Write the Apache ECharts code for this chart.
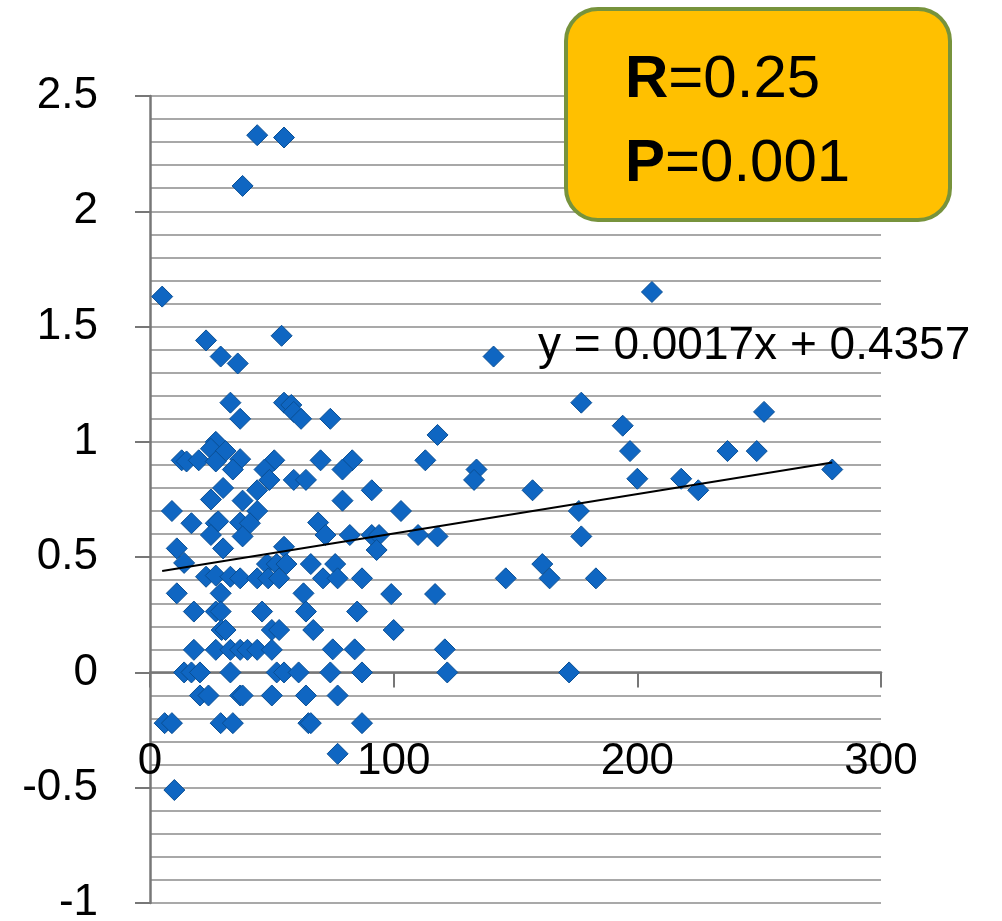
<!DOCTYPE html>
<html>
<head>
<meta charset="utf-8">
<script src="https://cdn.jsdelivr.net/npm/echarts@6/dist/echarts.min.js"></script>
<style>
html,body{margin:0;padding:0;background:#fff;}
#chart{width:1002px;height:921px;}
</style>
</head>
<body>
<div id="chart"></div>
<script>
// Scatter points [x, y]
var points = [
  [44, 2.33], [55, 2.32], [38, 2.11], [5, 1.63], [206, 1.65],
  [23, 1.44], [54, 1.46], [29, 1.37], [36, 1.34], [141, 1.37],
  [33, 1.17], [55, 1.17], [58, 1.16], [59, 1.13], [177, 1.17], [252, 1.13],
  [37, 1.10], [62, 1.10], [74, 1.10],
  [118, 1.03], [194, 1.07],
  [27, 1.00], [25, 0.97], [31, 0.96], [197, 0.96], [237, 0.96], [249, 0.96],
  [13, 0.92], [15, 0.915], [20, 0.92], [27, 0.915], [37, 0.925], [51, 0.92], [70, 0.92], [83, 0.92], [113, 0.92],
  [34, 0.88], [47, 0.88], [79, 0.88], [134, 0.88], [280, 0.88],
  [49, 0.835], [59, 0.835], [64, 0.835], [133, 0.835], [200, 0.84], [218, 0.84],
  [30, 0.80], [44, 0.79], [91, 0.79], [157, 0.79], [225, 0.79],
  [25, 0.75], [38, 0.745], [79, 0.745],
  [9, 0.70], [44, 0.70], [103, 0.70], [176, 0.70],
  [17, 0.647], [27, 0.647], [28, 0.655], [37, 0.65], [41, 0.647], [69, 0.65],
  [25, 0.596], [38, 0.59], [72, 0.596], [82, 0.596], [91, 0.596], [94, 0.596], [110, 0.596], [118, 0.59], [177, 0.59],
  [11, 0.538], [30, 0.538], [55, 0.545], [93, 0.531],
  [14, 0.475], [48, 0.47], [52, 0.47], [56, 0.47], [66, 0.47], [76, 0.47], [161, 0.47],
  [23, 0.415], [27, 0.42], [33, 0.415], [37, 0.408], [44, 0.408], [48.5, 0.408], [53, 0.408], [71, 0.408], [77, 0.408], [87, 0.408], [146, 0.408], [164, 0.408], [183, 0.408],
  [11, 0.343], [29, 0.343], [63, 0.343], [99, 0.34], [117, 0.34],
  [18, 0.264], [27, 0.264], [29, 0.264], [46, 0.264], [64, 0.264], [85, 0.264],
  [29.4, 0.184], [31, 0.184], [50, 0.184], [53, 0.184], [67, 0.184], [100, 0.184],
  [18, 0.098], [27, 0.098], [33, 0.098], [37, 0.098], [40, 0.098], [44, 0.098], [50, 0.098], [75, 0.10], [84, 0.10], [121, 0.10],
  [14, 0], [17, 0], [20.5, 0], [33, 0], [52, 0], [55, 0], [61, 0], [74, 0], [87, 0], [122, 0], [172, 0],
  [20.5, -0.1], [24, -0.1], [37, -0.1], [38, -0.1], [50, -0.1], [64, -0.1], [77, -0.1],
  [6, -0.22], [9, -0.22], [29, -0.22], [34, -0.22], [65, -0.22], [66, -0.22], [87, -0.22],
  [77, -0.353], [10, -0.51]
];
// Trend line end points
var trendLine = [[5, 0.44], [280, 0.91]];
var trendLabel = 'y = 0.0017x + 0.4357';
var statR = '0.25';
var statP = '0.001';
var xTicks = [0, 100, 200, 300];
var yTicks = [-1, -0.5, 0, 0.5, 1, 1.5, 2, 2.5];

var FONT = '"Liberation Sans", Arial, sans-serif';
var gridColor = '#8c8c8c';

var chart = echarts.init(document.getElementById('chart'), null, {renderer: 'canvas'});
chart.setOption({
  animation: false,
  backgroundColor: '#ffffff',
  grid: {left: 150, right: 121, top: 96, bottom: 18, containLabel: false, outerBoundsMode: 'none'},
  xAxis: {
    type: 'value',
    min: xTicks[0], max: xTicks[xTicks.length - 1], interval: 100,
    axisLine: {show: true, onZero: true, lineStyle: {color: '#777777', width: 2.5}},
    axisTick: {show: true, inside: false, length: 15, lineStyle: {color: '#777777', width: 2}},
    axisLabel: {show: true, margin: -163, fontSize: 44, color: '#000', fontFamily: FONT},
    splitLine: {show: false}
  },
  yAxis: {
    type: 'value',
    min: yTicks[0], max: yTicks[yTicks.length - 1], interval: 0.5,
    axisLine: {show: true, onZero: false, lineStyle: {color: '#777777', width: 2.5}},
    axisTick: {show: true, inside: false, length: 15, lineStyle: {color: '#777777', width: 2}},
    axisLabel: {show: true, margin: 52, fontSize: 44, color: '#000', fontFamily: FONT},
    splitLine: {show: true, lineStyle: {color: gridColor, width: 1.5}},
    minorTick: {show: false, splitNumber: 5},
    minorSplitLine: {show: true, lineStyle: {color: gridColor, width: 1.5}}
  },
  series: [
    {
      type: 'scatter',
      data: points,
      symbol: 'diamond',
      symbolSize: 21,
      itemStyle: {color: '#0f66c2', borderColor: '#0a4f94', borderWidth: 1, opacity: 1},
      z: 2
    },
    {
      type: 'line',
      data: trendLine,
      symbol: 'none',
      lineStyle: {color: '#000', width: 2},
      z: 3
    }
  ],
  graphic: [
    {
      type: 'text', x: 538, y: 346, z: 10,
      style: {text: trendLabel, font: '46px ' + FONT, fill: '#000', textAlign: 'left', textVerticalAlign: 'middle'}
    },
    {
      type: 'rect', z: 20,
      shape: {x: 566, y: 9, width: 384, height: 211, r: 32},
      style: {fill: '#FFC000', stroke: '#77933C', lineWidth: 4}
    },
    {
      type: 'text', x: 625, y: 80, z: 21,
      style: {
        text: '{b|R}{n|=' + statR + '}',
        textAlign: 'left', textVerticalAlign: 'middle',
        rich: {
          b: {fontFamily: FONT, fontSize: 60, fontWeight: 'bold', fill: '#000'},
          n: {fontFamily: FONT, fontSize: 60, fill: '#000'}
        }
      }
    },
    {
      type: 'text', x: 625, y: 164, z: 21,
      style: {
        text: '{b|P}{n|=' + statP + '}',
        textAlign: 'left', textVerticalAlign: 'middle',
        rich: {
          b: {fontFamily: FONT, fontSize: 60, fontWeight: 'bold', fill: '#000'},
          n: {fontFamily: FONT, fontSize: 60, fill: '#000'}
        }
      }
    }
  ]
});
</script>
</body>
</html>
